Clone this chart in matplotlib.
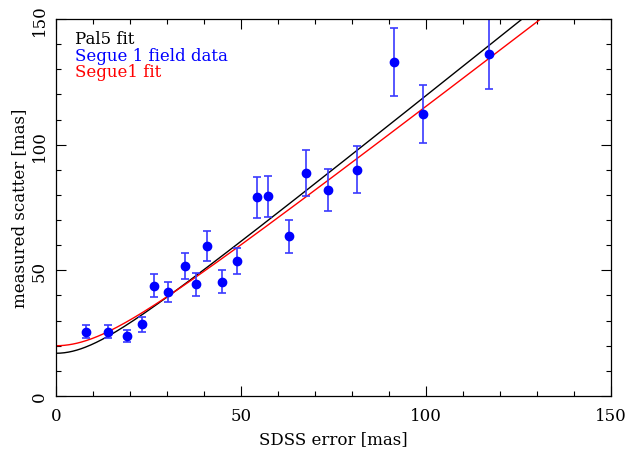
import numpy as np
import matplotlib.pyplot as plt
from matplotlib.ticker import MultipleLocator

# Segue 1 field data
sdss_err = [8.1, 14.0, 19.1, 23.2, 26.4, 30.4, 34.8, 37.8, 40.7, 44.9,
            48.9, 54.2, 57.4, 63.1, 67.7, 73.5, 81.4, 91.4, 99.3, 117.1]
scatter = [25.6, 25.5, 23.7, 28.5, 43.9, 41.4, 51.7, 44.4, 59.7, 45.4,
           53.7, 79.0, 79.4, 63.5, 88.7, 82.1, 90.1, 132.9, 112.2, 136.2]
scatter_err = [2.6, 2.6, 2.4, 2.9, 4.5, 4.1, 5.2, 4.5, 5.8, 4.6,
               5.3, 8.2, 8.2, 6.6, 9.0, 8.4, 9.3, 13.5, 11.4, 14.0]

# fit parameters: scatter = sqrt(floor^2 + (scale*err)^2)
pal5_floor, pal5_scale = 17.0, 1.183
segue_floor, segue_scale = 20.0, 1.135

plt.rcParams['font.family'] = ['DejaVu Serif']

fig = plt.figure(figsize=(6.27, 4.56), dpi=100)
ax = fig.add_axes([0.0893, 0.1294, 0.8852, 0.8267])

xx = np.linspace(0, 150, 400)
ax.plot(xx, np.sqrt(pal5_floor**2 + (pal5_scale * xx)**2), color='black', lw=1)
ax.plot(xx, np.sqrt(segue_floor**2 + (segue_scale * xx)**2), color='red', lw=1)

ax.errorbar(sdss_err, scatter, yerr=scatter_err, fmt='o', color='blue',
            ms=6, elinewidth=1.2, capsize=3, capthick=1.2, ecolor='#3a3aff')

ax.set_xlim(0, 150)
ax.set_ylim(0, 150)
ax.xaxis.set_major_locator(MultipleLocator(50))
ax.xaxis.set_minor_locator(MultipleLocator(10))
ax.yaxis.set_major_locator(MultipleLocator(50))
ax.yaxis.set_minor_locator(MultipleLocator(10))
ax.tick_params(which='both', direction='in', top=True, right=True, labelsize=12)
ax.tick_params(which='major', length=7, width=0.8)
ax.tick_params(which='minor', length=3.5, width=0.8)
for lab in ax.get_yticklabels():
    lab.set_rotation(90)
    lab.set_va('center')
ax.tick_params(axis='x', pad=8)
ax.tick_params(axis='y', pad=6)
for s in ax.spines.values():
    s.set_linewidth(0.9)

ax.set_xlabel('SDSS error [mas]', fontsize=12, labelpad=4)
ax.set_ylabel('measured scatter [mas]', fontsize=12, labelpad=2)

ax.text(0.035, 0.948, 'Pal5 fit', color='black', fontsize=12, transform=ax.transAxes, va='center')
ax.text(0.035, 0.904, 'Segue 1 field data', color='blue', fontsize=12, transform=ax.transAxes, va='center')
ax.text(0.035, 0.860, 'Segue1 fit', color='red', fontsize=12, transform=ax.transAxes, va='center')

fig.savefig('out.png', dpi=100)
